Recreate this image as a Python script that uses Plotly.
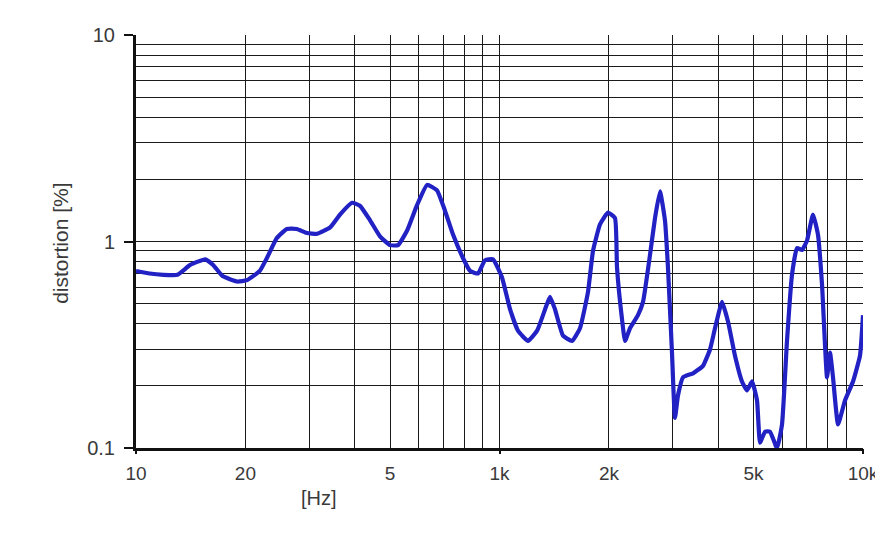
import plotly.graph_objects as go

# Frequency [Hz] and distortion [%]
freq_hz = [100, 109, 119, 130, 141, 155, 163, 173, 190, 202, 219, 229, 244, 260, 277,
           295, 315, 342, 364, 393, 413, 440, 469, 500, 526, 557, 593, 632, 673, 708,
           745, 794, 830, 873, 912, 960, 1016, 1069, 1124, 1198, 1269, 1335, 1377, 1421,
           1495, 1583, 1665, 1752, 1808, 1890, 1988, 2078, 2105, 2173, 2215, 2286, 2404,
           2482, 2594, 2678, 2764, 2853, 2907, 2982, 3039, 3098, 3198, 3407, 3629, 3794,
           3916, 4094, 4252, 4445, 4646, 4796, 4951, 5110, 5208, 5376, 5548, 5799, 5987,
           6179, 6378, 6583, 6796, 7014, 7285, 7518, 7713, 7962, 8114, 8270, 8537, 8923,
           9387, 9811, 10000]
distortion_pct = [0.72, 0.70, 0.69, 0.69, 0.77, 0.82, 0.77, 0.68, 0.64, 0.65, 0.72, 0.83,
                  1.04, 1.15, 1.15, 1.10, 1.09, 1.17, 1.35, 1.54, 1.49, 1.27, 1.06, 0.96,
                  0.96, 1.13, 1.50, 1.88, 1.77, 1.41, 1.08, 0.83, 0.72, 0.70, 0.81, 0.82,
                  0.67, 0.47, 0.37, 0.33, 0.37, 0.47, 0.54, 0.47, 0.35, 0.33, 0.38, 0.57,
                  0.90, 1.21, 1.38, 1.30, 0.75, 0.42, 0.33, 0.38, 0.44, 0.51, 0.86, 1.30,
                  1.75, 1.26, 0.75, 0.29, 0.14, 0.18, 0.22, 0.23, 0.25, 0.30, 0.38, 0.51,
                  0.41, 0.28, 0.21, 0.19, 0.21, 0.17, 0.106, 0.12, 0.12, 0.10, 0.13, 0.33,
                  0.69, 0.93, 0.91, 1.01, 1.35, 1.08, 0.62, 0.22, 0.29, 0.22, 0.13, 0.17,
                  0.21, 0.28, 0.44]

x_label_vals = [100, 200, 500, 1000, 2000, 5000, 10000]
x_label_text = ["10", "20", "5", "1k", "2k", "5k", "10k"]
x_grid_vals = [300, 400, 600, 700, 800, 900, 3000, 4000, 6000, 7000, 8000, 9000]
x_decades = [100, 1000, 10000]

y_label_vals = [0.1, 1, 10]
y_label_text = ["0.1", "1", "10"]
y_grid_vals = [0.2, 0.3, 0.4, 0.5, 0.6, 0.7, 0.8, 0.9, 2, 3, 4, 5, 6, 7, 8, 9]

FONT = "Liberation Sans, Arial, sans-serif"
GRID = "#1a1a1a"
TXT = "#3a3a3a"

fig = go.Figure()
fig.add_trace(go.Scatter(x=freq_hz, y=distortion_pct, mode="lines",
                         line=dict(color="#2121c4", width=4.2, shape="spline", smoothing=0.4),
                         hoverinfo="skip", showlegend=False))
# invisible trace to carry the decade tick marks axis
fig.add_trace(go.Scatter(x=freq_hz, y=distortion_pct, xaxis="x2", mode="lines",
                         line=dict(width=0), opacity=0, hoverinfo="skip", showlegend=False))

fig.update_layout(
    width=883, height=534,
    margin=dict(l=128, r=28, t=27, b=94),
    paper_bgcolor="white", plot_bgcolor="white",
    font=dict(family=FONT, size=20, color=TXT),
    xaxis=dict(type="log", range=[2, 4], tickmode="array",
               tickvals=x_label_vals, ticktext=x_label_text,
               showgrid=True, gridcolor=GRID, gridwidth=1, ticks="",
               minor=dict(tickmode="array", tickvals=x_grid_vals, showgrid=True,
                          gridcolor=GRID, gridwidth=1, ticks=""),
               showline=True, linecolor="#111111", linewidth=3,
               zeroline=False, tickfont=dict(size=19, color=TXT), ticklabelstandoff=6),
    xaxis2=dict(type="log", range=[2, 4], overlaying="x", side="bottom", tickmode="array",
                tickvals=x_decades, showticklabels=False, showgrid=False, ticks="outside",
                ticklen=5, tickwidth=2, tickcolor="#111111", showline=False, zeroline=False),
    yaxis=dict(type="log", range=[-1, 1], tickmode="array",
               tickvals=y_label_vals, ticktext=y_label_text,
               showgrid=True, gridcolor=GRID, gridwidth=1,
               ticks="outside", ticklen=9, tickwidth=2, tickcolor="#111111",
               minor=dict(tickmode="array", tickvals=y_grid_vals, showgrid=True,
                          gridcolor=GRID, gridwidth=1, ticks=""),
               showline=True, linecolor="#111111", linewidth=3,
               zeroline=False, tickfont=dict(size=20, color=TXT), ticklabelstandoff=5),
    annotations=[
        dict(text="distortion [%]", xref="paper", yref="paper", x=-0.105, y=0.496,
             textangle=-90, showarrow=False, font=dict(size=21, color=TXT),
             xanchor="center", yanchor="middle"),
        dict(text="[Hz]", xref="paper", yref="paper", x=0.252, y=-0.121,
             showarrow=False, font=dict(size=20, color=TXT),
             xanchor="center", yanchor="middle"),
    ],
)

fig.write_html("out.html")
